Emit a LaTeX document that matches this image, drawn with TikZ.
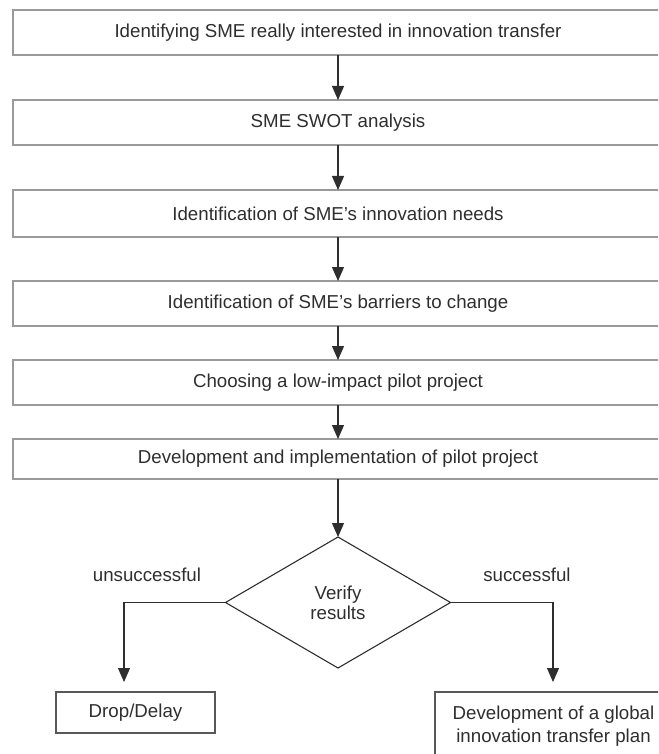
\documentclass[tikz,border=0pt]{standalone}
\usepackage{fontspec}
\setmainfont{Liberation Sans}
\usetikzlibrary{shapes.geometric,arrows.meta}
\definecolor{boxline}{HTML}{9A9A9A}
\definecolor{ink}{HTML}{2E2E2E}
\begin{document}
\begin{tikzpicture}[x=1pt,y=-1pt,
  every node/.style={text=ink,font=\fontsize{18.7}{23}\selectfont,inner sep=0pt,outer sep=0pt},
  stepbox/.style={draw=boxline,line width=1.5pt,rectangle,minimum width=650pt},
  endbox/.style={draw=ink!80,line width=1.2pt,rectangle},
  decision/.style={draw=ink,line width=1.1pt,diamond,minimum width=225pt,minimum height=131pt,align=center,font=\fontsize{18.7}{20}\selectfont},
  arr/.style={draw=ink,line width=1.1pt,-{Triangle[width=12pt,length=14pt]}},
  lbl/.style={font=\fontsize{18.7}{23}\selectfont}]
\useasboundingbox (0,0) rectangle (658,754);
\clip (0,0) rectangle (658,754);

% main sequence of steps
\node[stepbox,minimum height=45pt] (s1) at (338,32.5) {Identifying SME really interested in innovation transfer};
\node[stepbox,minimum height=45pt] (s2) at (338,122.5) {SME SWOT analysis};
\node[stepbox,minimum height=47pt] (s3) at (338,213.5) {Identification of SME’s innovation needs};
\node[stepbox,minimum height=45pt] (s4) at (338,303.5) {Identification of SME’s barriers to change};
\node[stepbox,minimum height=45pt] (s5) at (338,382.5) {Choosing a low-impact pilot project};
\node[stepbox,minimum height=40pt] (s6) at (338,459) {Development and implementation of pilot project};

% decision
\node[decision] (dec) at (338,602.5) {Verify\\results};

% outcomes
\node[endbox,minimum width=159pt,minimum height=41pt] (drop) at (135.5,712.5) {Drop/Delay};
\node[endbox,minimum width=237pt,minimum height=74pt,align=center,anchor=north] (plan) at (553.5,692)
  {\rule{0pt}{0pt}\\[-16pt]Development of a global\\innovation transfer plan};

% arrow tips of the branches
\coordinate (tipL) at (124,682);
\coordinate (tipR) at (553,682);

% connectors
\draw[arr] (s1) -- (s2);
\draw[arr] (s2) -- (s3);
\draw[arr] (s3) -- (s4);
\draw[arr] (s4) -- (s5);
\draw[arr] (s5) -- (s6);
\draw[arr] (s6) -- (dec);
\draw[arr] (dec.west) -| (tipL);
\draw[arr] (dec.east) -| (tipR);

% branch labels
\node[lbl] (lu) at (147,575) {unsuccessful};
\node[lbl] (ls) at (527,575) {successful};
\end{tikzpicture}
\end{document}
